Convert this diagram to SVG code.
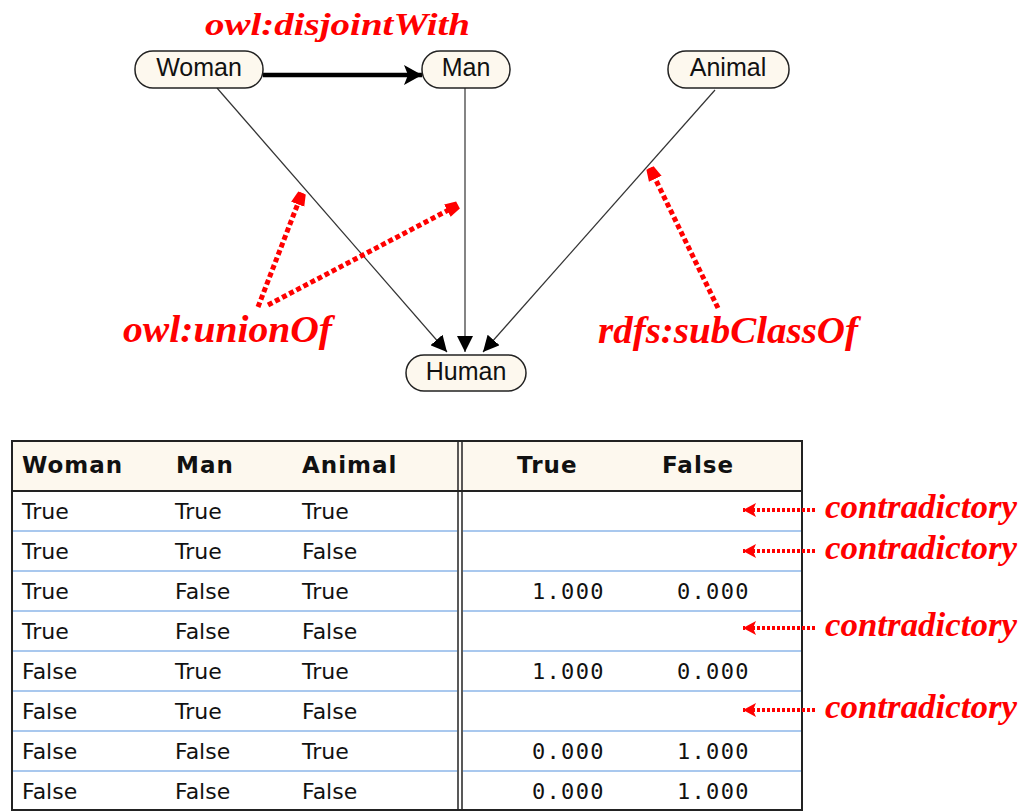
<svg xmlns="http://www.w3.org/2000/svg" width="1021" height="812" viewBox="0 0 1021 812">
  <style>
    .pill { fill: #fdf8ee; stroke: #222; stroke-width: 1.5; }
    .nlabel { font-family: "Liberation Sans", Arial, sans-serif; font-size: 25px; fill: #111; text-anchor: middle; }
    .edge { stroke: #333; stroke-width: 1.2; fill: none; }
    .redlink { stroke: #ff0000; stroke-width: 5; stroke-dasharray: 5 3; fill: none; }
    .reddot { stroke: #ff0000; stroke-width: 4; stroke-dasharray: 3 2; fill: none; }
    .note { font-family: "Liberation Serif", "Times New Roman", serif; font-weight: bold; font-style: italic; fill: #ff0000; }
    .cell { font-family: "DejaVu Sans", Tahoma, sans-serif; font-size: 22px; fill: #111; }
    .head { font-family: "DejaVu Sans", Tahoma, sans-serif; font-size: 23px; font-weight: bold; fill: #111; letter-spacing: 1px; }
    .num { font-family: "DejaVu Sans Mono", "Liberation Mono", monospace; font-size: 22px; fill: #111; letter-spacing: 1.3px; }
    .rowline { stroke: #a9c8ee; stroke-width: 2; }
    .frame { stroke: #222; stroke-width: 2; fill: none; }
  </style>
  <defs>
    <marker id="blackHead" markerUnits="userSpaceOnUse" markerWidth="18" markerHeight="16" refX="16" refY="8" orient="auto">
      <path d="M0,0 L16,8 L0,16 Z" fill="#000"/>
    </marker>
    <marker id="boldHead" markerUnits="userSpaceOnUse" markerWidth="20" markerHeight="20" refX="18" refY="10" orient="auto">
      <path d="M0,0 L18,10 L0,20 L4,10 Z" fill="#000"/>
    </marker>
    <marker id="redHead" markerUnits="userSpaceOnUse" markerWidth="14" markerHeight="16" refX="12" refY="8" orient="auto">
      <path d="M0,1 L12,4 L12,12 L0,15 Z" fill="#ff0000"/>
    </marker>
    <marker id="redSmall" markerUnits="userSpaceOnUse" markerWidth="14" markerHeight="14" refX="13" refY="7" orient="auto">
      <path d="M0,0 L13,7 L0,14 L3,7 Z" fill="#ff0000"/>
    </marker>
  </defs>

  <!-- connectors -->
  <g id="connectors">
    <line x1="263" y1="75" x2="422" y2="75" stroke="#000" stroke-width="4.5" marker-end="url(#boldHead)"/>
    <line class="edge" x1="217" y1="88" x2="447" y2="352" marker-end="url(#blackHead)"/>
    <line class="edge" x1="465" y1="88" x2="465" y2="352" marker-end="url(#blackHead)"/>
    <line class="edge" x1="715" y1="90" x2="483" y2="352" marker-end="url(#blackHead)"/>
    <line class="redlink" x1="258" y1="307" x2="302" y2="193" marker-end="url(#redHead)"/>
    <line class="redlink" x1="268" y1="305" x2="458" y2="205" marker-end="url(#redHead)"/>
    <line class="redlink" x1="718" y1="308" x2="650" y2="168" marker-end="url(#redHead)"/>
  </g>

  <!-- nodes -->
  <g id="node-woman">
    <rect class="pill" x="135" y="51" width="128" height="37" rx="18"/>
    <text class="nlabel" x="199" y="76">Woman</text>
  </g>
  <g id="node-man">
    <rect class="pill" x="422" y="51" width="88" height="37" rx="18"/>
    <text class="nlabel" x="466" y="76">Man</text>
  </g>
  <g id="node-animal">
    <rect class="pill" x="668" y="51" width="121" height="37" rx="18"/>
    <text class="nlabel" x="728" y="76">Animal</text>
  </g>
  <g id="node-human">
    <rect class="pill" x="406" y="355" width="120" height="36" rx="18"/>
    <text class="nlabel" x="466" y="380">Human</text>
  </g>

  <!-- relation labels -->
  <g id="labels">
    <text class="note" x="205" y="35" font-size="32" textLength="265" lengthAdjust="spacingAndGlyphs">owl:disjointWith</text>
    <text class="note" x="123" y="342" font-size="37" textLength="209" lengthAdjust="spacingAndGlyphs">owl:unionOf</text>
    <text class="note" x="598" y="343" font-size="37" textLength="260" lengthAdjust="spacingAndGlyphs">rdfs:subClassOf</text>
  </g>

  <!-- probability table -->
  <g id="table">
    <rect x="12" y="441" width="790" height="50" fill="#fdf8ee"/>
    <rect x="12" y="491" width="790" height="319" fill="#fff"/>
    <g>
      <line class="rowline" x1="13" y1="531" x2="457" y2="531"/>
      <line class="rowline" x1="13" y1="571" x2="457" y2="571"/>
      <line class="rowline" x1="13" y1="611" x2="457" y2="611"/>
      <line class="rowline" x1="13" y1="651" x2="457" y2="651"/>
      <line class="rowline" x1="13" y1="691" x2="457" y2="691"/>
      <line class="rowline" x1="13" y1="731" x2="457" y2="731"/>
      <line class="rowline" x1="13" y1="771" x2="457" y2="771"/>
      <line class="rowline" x1="463" y1="531" x2="801" y2="531"/>
      <line class="rowline" x1="463" y1="571" x2="801" y2="571"/>
      <line class="rowline" x1="463" y1="611" x2="801" y2="611"/>
      <line class="rowline" x1="463" y1="651" x2="801" y2="651"/>
      <line class="rowline" x1="463" y1="691" x2="801" y2="691"/>
      <line class="rowline" x1="463" y1="731" x2="801" y2="731"/>
      <line class="rowline" x1="463" y1="771" x2="801" y2="771"/>
    </g>
    <rect class="frame" x="12" y="441" width="790" height="369"/>
    <line class="frame" x1="12" y1="491" x2="802" y2="491"/>
    <line x1="458" y1="441" x2="458" y2="810" stroke="#222" stroke-width="1.5"/>
    <line x1="462" y1="441" x2="462" y2="810" stroke="#222" stroke-width="1.5"/>

    <text class="head" x="22" y="473">Woman</text>
    <text class="head" x="176" y="473">Man</text>
    <text class="head" x="302" y="473">Animal</text>
    <text class="head" x="517" y="473">True</text>
    <text class="head" x="662" y="473">False</text>

    <text class="cell" x="22" y="519">True</text><text class="cell" x="175" y="519">True</text><text class="cell" x="302" y="519">True</text>
    <text class="cell" x="22" y="559">True</text><text class="cell" x="175" y="559">True</text><text class="cell" x="302" y="559">False</text>
    <text class="cell" x="22" y="599">True</text><text class="cell" x="175" y="599">False</text><text class="cell" x="302" y="599">True</text>
    <text class="cell" x="22" y="639">True</text><text class="cell" x="175" y="639">False</text><text class="cell" x="302" y="639">False</text>
    <text class="cell" x="22" y="679">False</text><text class="cell" x="175" y="679">True</text><text class="cell" x="302" y="679">True</text>
    <text class="cell" x="22" y="719">False</text><text class="cell" x="175" y="719">True</text><text class="cell" x="302" y="719">False</text>
    <text class="cell" x="22" y="759">False</text><text class="cell" x="175" y="759">False</text><text class="cell" x="302" y="759">True</text>
    <text class="cell" x="22" y="799">False</text><text class="cell" x="175" y="799">False</text><text class="cell" x="302" y="799">False</text>

    <text class="num" x="532" y="599">1.000</text><text class="num" x="677" y="599">0.000</text>
    <text class="num" x="532" y="679">1.000</text><text class="num" x="677" y="679">0.000</text>
    <text class="num" x="532" y="759">0.000</text><text class="num" x="677" y="759">1.000</text>
    <text class="num" x="532" y="799">0.000</text><text class="num" x="677" y="799">1.000</text>
  </g>

  <!-- annotations for impossible rows -->
  <g id="contradictions">
    <line class="reddot" x1="815" y1="510" x2="743" y2="510" marker-end="url(#redSmall)"/>
    <text class="note" x="825" y="518" font-size="33" textLength="192" lengthAdjust="spacingAndGlyphs">contradictory</text>
    <line class="reddot" x1="815" y1="551" x2="743" y2="551" marker-end="url(#redSmall)"/>
    <text class="note" x="825" y="559" font-size="33" textLength="192" lengthAdjust="spacingAndGlyphs">contradictory</text>
    <line class="reddot" x1="815" y1="628" x2="743" y2="628" marker-end="url(#redSmall)"/>
    <text class="note" x="825" y="636" font-size="33" textLength="192" lengthAdjust="spacingAndGlyphs">contradictory</text>
    <line class="reddot" x1="815" y1="710" x2="743" y2="710" marker-end="url(#redSmall)"/>
    <text class="note" x="825" y="718" font-size="33" textLength="192" lengthAdjust="spacingAndGlyphs">contradictory</text>
  </g>
</svg>
